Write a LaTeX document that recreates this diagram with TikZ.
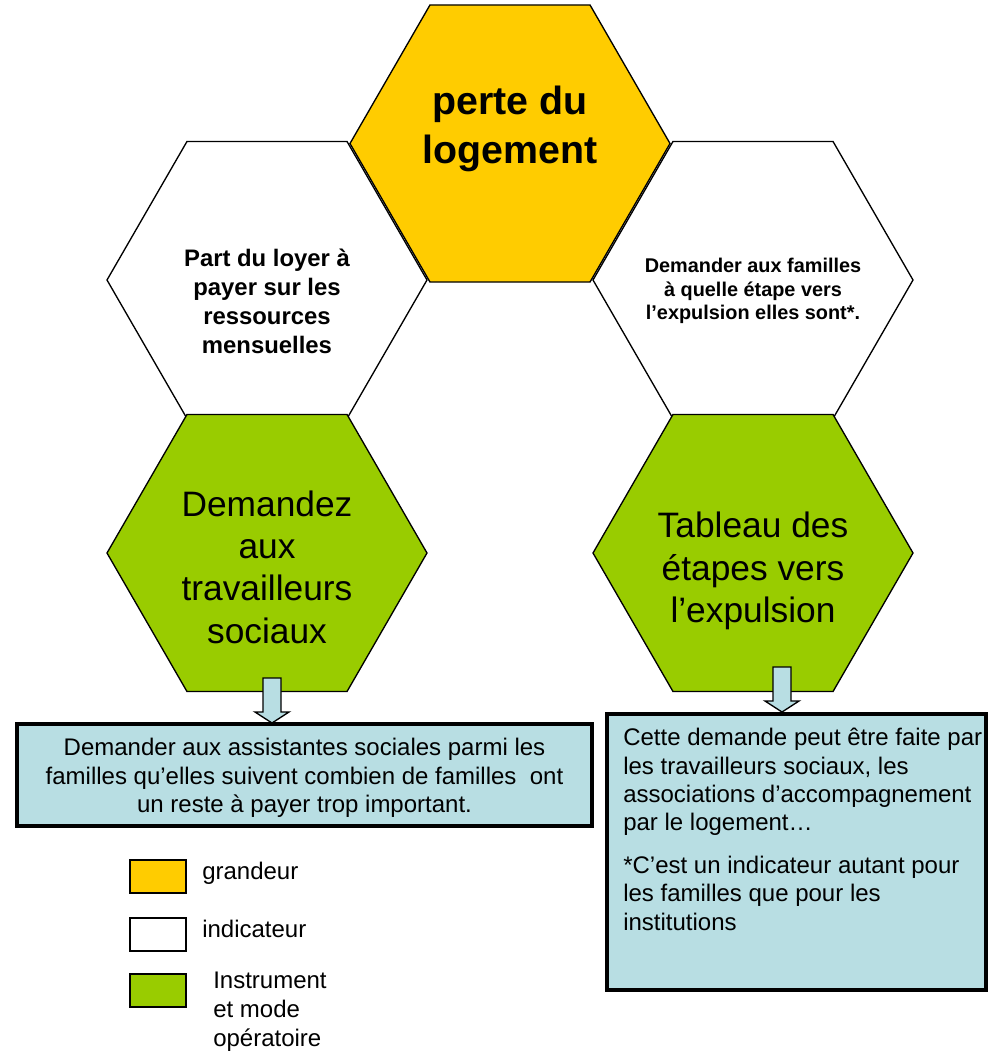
\documentclass[tikz,border=0pt]{standalone}
\usepackage{fontspec}
\setmainfont{Liberation Sans}
\usepackage{tikz}
\usetikzlibrary{shapes.geometric}
\definecolor{grandeurOrange}{RGB}{255,204,0}
\definecolor{instrumentGreen}{RGB}{153,204,0}
\definecolor{noteBlue}{RGB}{184,222,227}
\tikzset{hex cell/.style={draw, line width=1pt, regular polygon, regular polygon sides=6, minimum size=240pt, inner sep=0pt}}
\tikzset{hex text/.style={align=center, inner sep=0pt}}
\tikzset{note box/.style={draw, line width=3pt, fill=noteBlue, inner sep=0pt}}
\tikzset{down arrow/.style={draw, line width=1pt, fill=noteBlue, line join=miter}}
\tikzset{legend box/.style={draw, line width=1.5pt, inner sep=0pt, minimum width=42pt, minimum height=24.75pt}}

\begin{document}
\begin{tikzpicture}[x=0.75pt, y=-0.75pt]
\useasboundingbox (0,0) rectangle (990,1053);

% indicateurs
\node[hex cell, fill=white] (indLoyer) at (267,280) {};
\node[hex cell, fill=white] (indEtape) at (753,280) {};
% grandeur
\node[hex cell, fill=grandeurOrange] (grandeur) at (510,143.5) {};
% instruments
\node[hex cell, fill=instrumentGreen] (instrSociaux) at (267,553) {};
\node[hex cell, fill=instrumentGreen] (instrTableau) at (753,553) {};

\node[hex text, font=\fontsize{29.5}{36.7}\selectfont\bfseries] (grandeurText) at (510,129) {perte du\\logement};
\node[hex text, font=\fontsize{17.9}{21.7}\selectfont\bfseries] (indLoyerText) at (267,301) {Part du loyer à\\payer sur les\\ressources\\mensuelles};
\node[hex text, font=\fontsize{14.9}{17.5}\selectfont\bfseries] (indEtapeText) at (753,291) {Demander aux familles\\à quelle étape vers\\l’expulsion elles sont*.};
\node[hex text, font=\fontsize{26.5}{31.7}\selectfont] (instrSociauxText) at (267,567) {Demandez\\aux\\travailleurs\\sociaux};
\node[hex text, font=\fontsize{26.5}{31.7}\selectfont] (instrTableauText) at (753,571) {Tableau des\\étapes vers\\l’expulsion};

% fleches
\coordinate (flecheG) at (272,678);
\coordinate (flecheD) at (782,667);
\draw[down arrow] (flecheG) ++(-9,0) -- ++(18,0) -- ++(0,34) -- ++(8,0) -- ++(-17,11) -- ++(-17,-11) -- ++(8,0) -- cycle;
\draw[down arrow] (flecheD) ++(-9,0) -- ++(18,0) -- ++(0,34) -- ++(8,0) -- ++(-17,11) -- ++(-17,-11) -- ++(8,0) -- cycle;

% notes
\node[note box, minimum width=431pt, minimum height=77pt] (noteG) at (304.5,775) {};
\node[hex text, font=\fontsize{18}{21.2}\selectfont] (noteGText) at (304.5,778) {Demander aux assistantes sociales parmi les\\familles qu’elles suivent combien de familles\ \ ont\\un reste à payer trop important.};
\node[note box, minimum width=284pt, minimum height=207pt] (noteD) at (796.5,852) {};
\node[anchor=north west, inner sep=0pt, align=left, font=\fontsize{18}{21.2}\selectfont] (noteDText) at (623,728) {Cette demande peut être faite par\\les travailleurs sociaux, les\\associations d’accompagnement\\par le logement…\\[11pt]*C’est un indicateur autant pour\\les familles que pour les\\institutions};

% legende
\node[legend box, fill=grandeurOrange] (legGrandeur) at (158,876.5) {};
\node[legend box, fill=white] (legIndicateur) at (158,934) {};
\node[legend box, fill=instrumentGreen] (legInstrument) at (158,990.5) {};
\node[anchor=base west, inner sep=0pt, font=\fontsize{18}{21.75}\selectfont] (legGrandeurText) at (202,879) {grandeur};
\node[anchor=base west, inner sep=0pt, font=\fontsize{18}{21.75}\selectfont] (legIndicateurText) at (202,937) {indicateur};
\node[anchor=north west, inner sep=0pt, align=left, font=\fontsize{18}{21.75}\selectfont] (legInstrumentText) at (213,972) {Instrument\\et mode\\opératoire};

\end{tikzpicture}
\end{document}
